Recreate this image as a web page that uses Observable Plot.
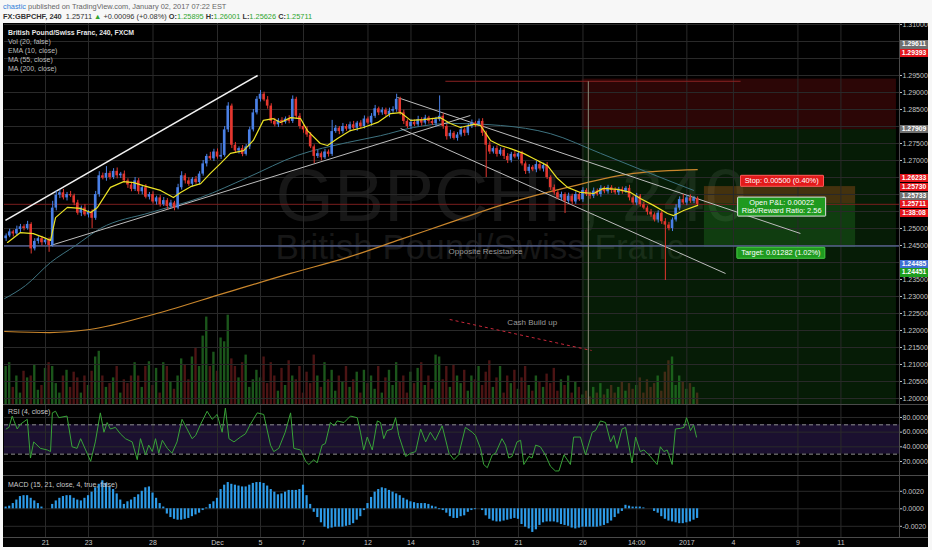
<!DOCTYPE html>
<html><head><meta charset="utf-8">
<script src="https://cdn.jsdelivr.net/npm/d3@7"></script>
<script src="https://cdn.jsdelivr.net/npm/@observablehq/plot@0.6"></script>
<style>
html,body{margin:0;padding:0;background:#f7f7f7;width:932px;height:550px;overflow:hidden;font-family:"Liberation Sans",Arial,"DejaVu Sans",sans-serif;}
.hdr{position:absolute;left:3px;white-space:nowrap;font-size:7.4px;line-height:9px;}
#hdr1{top:2px;color:#666;}
#hdr1 .user{color:#2f7fd8;}
#hdr2{top:11.5px;color:#333;}
#hdr2 .g{color:#2ea52e;}
#chart{position:absolute;left:3px;top:23px;width:925px;height:524px;background:#000;overflow:hidden;}
.layer{position:absolute;left:0;}
.sep{position:absolute;left:0;width:925px;height:1px;background:#4a4a4a;}
.vsep{position:absolute;left:896px;top:0;width:1px;height:514px;background:#4a4a4a;}
#legend{position:absolute;left:5px;top:5px;font-size:7px;line-height:9px;color:#bcbcbc;white-space:nowrap;}
#legend .l1{color:#e6e6e6;font-weight:bold;font-size:6.9px;}
.pane-label{position:absolute;left:5px;font-size:7px;line-height:8px;color:#c8c8c8;white-space:nowrap;}
.tag{position:absolute;left:897px;width:28px;height:8.6px;line-height:8.6px;font-size:6.8px;color:#fff;text-align:center;font-weight:bold;}
.tag.red{background:#e3161c;}
.tag.gray{background:#707070;}
.tag.blue{background:#3f6fd3;}
.tag.green{background:#1e9d1e;}
.box{position:absolute;transform:translate(-50%,-50%);color:#fff;font-size:7.4px;line-height:8.4px;padding:1px 4px;white-space:nowrap;text-align:center;border-radius:1px;}
.box.stop{background:#e31a1a;border:1px solid #ff5a5a;}
.box.pnl{background:#1f9a1f;border:1px solid #e0e0e0;}
.box.target{background:#1f9a1f;border:1px solid #44cc44;}
</style>
</head>
<body>
<div id="hdr1" class="hdr"><span class="user">chastic</span> published on TradingView.com, January 02, 2017 07:22 EST</div>
<div id="hdr2" class="hdr"><b>FX:GBPCHF, 240</b>&nbsp; 1.25711 <span class="g">▲</span> +0.00096 (+0.08%) <b>O:</b><span class="g">1.25895</span> <b>H:</b><span class="g">1.26001</span> <b>L:</b><span class="g">1.25626</span> <b>C:</b><span class="g">1.25711</span></div>
<div id="chart"></div>
<script>
// ---------- DATA (prices in pips above 1.2000, candle index = 4h bar) ----------
const firstOpen = 470;
const closes = [
 478,490,484,497,505,500,512,440,462,470,
 458,466,450,560,598,605,590,600,596,575,
 545,560,540,548,530,600,655,648,662,650,
 668,655,660,640,628,615,640,608,620,592,
 600,578,590,570,582,565,575,560,620,655,
 640,630,645,635,660,690,712,705,725,710,
 715,790,860,745,728,735,718,740,790,840,
 880,895,878,860,815,805,818,812,822,815,
 880,830,800,790,775,740,712,720,708,725,
 718,785,795,785,800,792,805,795,810,800,
 822,810,830,852,840,848,835,845,850,880,
 840,815,800,812,805,820,810,825,815,808,
 820,830,800,770,780,765,775,790,780,800,
 810,805,815,780,745,725,735,718,730,712,
 700,718,710,720,690,668,680,672,688,675,
 685,650,620,605,590,600,580,595,578,600,
 585,612,600,595,610,600,618,608,620,612,
 605,615,608,618,590,575,595,570,560,548,
 540,525,545,520,510,500,525,560,585,575,
 590,580,588,571];
const upperWick = [
 6,8,5,10,7,6,9,5,8,6, 7,5,6,20,12,8,10,6,9,5, 8,6,10,5,7,9,12,8,20,6,
 8,10,5,9,6,8,10,7,5,9, 6,8,5,7,9,6,8,5,10,12, 6,9,5,8,7,10,6,12,8,9,
 35,10,10,6,8,5,9,7,8,10, 8,11,6,10,7,9,5,8,6,10, 10,6,8,5,9,7,6,10,5,8,
 6,33,8,5,9,6,8,10,5,7, 9,6,8,10,5,7,6,9,8,15, 6,8,5,9,7,10,6,8,5,9,
 7,60,8,6,9,5,7,10,6,8, 9,5,7,8,6,10,5,8,7,6, 8,6,9,5,7,6,8,5,9,6,
 7,9,5,8,6,7,5,9,6,8, 6,8,5,7,9,6,8,5,7,6, 8,6,7,5,9,6,8,5,7,6,
 8,6,7,5,9,8,6,10,8,15, 7,9,6,5];
const lowerWick = [
 8,5,9,6,10,7,5,15,6,8, 9,6,20,5,8,10,6,9,5,8, 6,10,5,9,30,6,8,5,9,7,
 6,9,8,5,10,7,6,8,9,5, 8,6,9,7,5,10,6,8,5,7, 9,6,8,5,7,6,9,5,8,6,
 7,5,8,10,6,9,7,5,8,6, 6,8,5,9,7,6,8,10,5,7, 6,9,8,10,7,5,21,6,9,5,
 8,6,5,9,7,6,8,5,9,6, 7,5,9,6,8,7,5,9,6,8, 7,9,6,8,5,7,9,6,8,5,
 9,6,8,10,7,5,8,6,9,7, 6,8,5,9,95,7,6,8,5,9, 9,7,5,8,6,9,7,5,8,6,
 9,6,8,7,5,9,36,6,8,7, 5,8,6,9,7,5,8,6,7,9, 6,8,7,5,9,6,8,7,5,9,
 7,6,9,8,163,7,9,6,8,5, 8,6,7,5];
const volumes = [
 40,44,18,30,12,35,28,30,42,15,20,
 38,44,40,22,12,30,36,18,34,28,
 12,30,20,35,50,56,30,18,22,28,
 40,12,26,22,30,44,30,18,40,45,
 20,38,12,44,40,24,16,30,48,42,
 26,50,60,40,72,92,40,55,35,70,
 66,94,48,40,28,44,52,18,26,36,
 28,50,22,44,30,14,38,20,46,30,
 26,40,12,34,22,52,30,18,44,26,
 36,14,30,24,40,18,26,34,12,36,
 22,30,16,40,12,28,36,20,44,24,
 30,12,34,22,38,44,20,30,16,52,
 50,26,40,18,42,30,22,36,14,30,
 26,40,20,34,46,18,28,40,12,30,
 22,36,16,28,40,20,14,30,24,18,
 32,22,38,14,26,20,30,12,24,18,
 10,14,8,18,12,22,10,16,20,12,
 18,24,14,22,16,20,28,12,26,18,
 22,30,14,34,46,50,20,30,24,16,
 22,18,12];
// MACD histogram in units of 0.0001
const macdHist = [
 2,3,6,10,14,15,15,12,9,6, 2,0,0,5,9,12,14,15,15,12, 10,9,12,15,19,24,28,32,29,25,
 22,17,10,5,8,10,13,16,20,24, 25,18,12,6,2,-6,-10,-12,-13,-13, -12,-11,-9,-7,-5,-2,1,5,8,12,
 22,27,30,28,27,26,25,25,27,29, 30,30,29,26,22,19,16,17,19,21, 21,21,22,27,15,5,-4,-10,-16,-21,
 -23,-22,-21,-21,-21,-20,-19,-17,-13,-9, -2,6,13,19,22,24,23,21,19,17, 15,12,10,8,7,6,6,6,5,3,
 2,-1,-2,-5,-9,-11,-11,-9,-8,-4, -2,-1,0,-2,-8,-12,-14,-15,-15,-14, -13,-12,-11,-12,-18,-21,-23,-27,-24,-19,
 -16,-15,-15,-15,-16,-18,-19,-20,-22,-23, -22,-21,-21,-21,-21,-21,-20,-19,-17,-14, -10,-6,-3,4,3,2,2,2,1,0,
 0,-3,-5,-9,-12,-14,-15,-16,-17,-17, -16,-15,-13,-11];
// [candle index, RSI]
const rsiPoints = [
 [0,64.3],[0.8,66.5],[1.7,81.9],[2.2,75.3],[3.1,64.3],[4,70.9],[5.9,77.5],[6.8,24.7],[7.7,46.7],[9.6,37.9],
 [11.5,35.7],[12.4,33.5],[12.9,86.3],[13.8,88.5],[14.7,79.7],[17,81.9],[18.4,40.1],[19.8,37.9],[20.8,51.1],[22.2,35.7],
 [23.6,20.3],[24.9,46.7],[26.3,86.3],[27.3,59.9],[28.2,73.1],[29.1,64.3],[30.5,66.5],[31.9,57.7],[33.3,51.1],[35.2,46.7],
 [36.6,22.5],[37.5,51.1],[38.9,29.1],[39.8,42.3],[40.8,33.5],[41.7,51.1],[42.6,31.3],[43.6,48.9],[45,37.9],[46.3,31.3],
 [47.7,46.7],[49.1,77.5],[50.5,64.3],[51.9,51.1],[52.9,55.5],[54.3,70.9],[56.1,88.5],[57.5,77.5],[58.9,84.1],[60.3,59.9],
 [61.2,92.9],[62.2,51.1],[63.6,46.7],[65.4,53.3],[66.8,57.7],[68.2,70.9],[70.1,86.3],[71.9,84.1],[73.8,42.3],[74.7,33.5],
 [76.1,37.9],[77.9,59.9],[79.4,86.3],[80.3,37.9],[82.2,35.7],[83.6,20.3],[84.5,15.9],[85.9,22.5],[86.8,18.1],[88.2,42.3],
 [89.1,44.5],[90.5,73.1],[91.5,68.7],[92.4,75.3],[94.3,73.1],[96.1,81.9],[98,79.7],[98.9,59.9],[99.8,35.7],[100.8,53.3],
 [102.2,35.7],[103.6,75.3],[104.5,73.1],[105.4,51.1],[106.3,62.1],[107.7,64.3],[108.7,79.7],[109.6,55.5],[111.5,26.9],[112.9,31.3],
 [114.3,33.5],[115.7,64.3],[117.1,46.7],[118.4,59.9],[119.8,48.9],[121.7,68.7],[123.6,31.3],[125,22.5],[126.3,29.1],[128.2,66.5],
 [130.1,59.9],[131,55.5],[132.4,37.9],[133.3,15.9],[134.3,11.5],[135.7,29.1],[136.6,31.3],[138.4,51.1],[139.4,42.3],[140.3,24.7],
 [141.2,26.9],[142.6,46.7],[143.6,48.9],[144.5,15.9],[145.9,26.9],[146.8,24.7],[147.8,42.3],[149.1,40.1],[150.5,29.1],[151.9,13.7],
 [153.3,7.1],[154.3,7.1],[155.7,29.1],[157.5,15.9],[158.4,53.3],[160.3,53.3],[161.7,29.1],[163.6,59.9],[164.5,62.1],[165.9,75.3],
 [167.3,73.1],[168.7,46.7],[169.6,55.5],[170.5,37.9],[171.9,64.3],[172.9,66.5],[174.7,18.1],[175.7,53.3],[177,33.5],[178,35.7],
 [179.8,26.9],[181.7,15.9],[182.6,40.1],[183.6,33.5],[184.5,35.7],[185.9,15.9],[186.8,64.3],[188.2,65.2],[189.2,66.5],[189.9,79.7],
 [190.5,70.9],[191,62.1],[191.9,69.6],[192.7,53.3]];
// [candle index, pips above 1.2000]
const emaPoints = [
 [0.4,459],[4,488],[7.6,485],[10.4,474],[12.4,465],[13.8,532],[17.1,562],[20.8,559],[23.6,547],[25.5,562],
 [29.1,621],[32.8,638],[35.6,635],[38.3,626],[43.1,612],[46.7,591],[48.7,606],[51.5,623],[54.3,632],[57,662],
 [59.8,691],[62.6,721],[66.3,729],[69,759],[71.8,818],[74.6,823],[76.6,812],[79.4,826],[82.2,823],[84.1,788],
 [87.7,750],[89.7,744],[92.5,765],[96.1,788],[99.7,797],[103.7,812],[107.3,838],[110.1,841],[112.9,818],[116.5,820],
 [121.2,826],[124,809],[126.8,797],[130.5,806],[132.4,803],[135.2,759],[138,744],[140.8,735],[144.4,721],[147.2,706],
 [151.1,685],[153.9,647],[156.7,621],[160.3,606],[164,603],[166.7,618],[170.6,615],[174.3,606],[177,588],[180.7,568],
 [184.6,544],[186.3,538],[189.1,553],[193,568]];
const ma55Points = [
 [-0.4,294],[5.4,332],[12.4,400],[19.4,450],[26.3,500],[40.3,547],[54.3,591],[67.4,650],[81.3,715],[95.3,753],
 [104.5,773],[113.7,797],[124,809],[138,803],[151.9,779],[165.9,721],[179.8,662],[191.9,612]];
const ma200Points = [
 [-0.4,197],[12.1,194],[23.3,203],[42,250],[60.7,309],[79.4,368],[95.3,415],[110.1,468],[124,518],[138,568],
 [156.7,621],[175.1,662],[192.9,673]];
// drawings: trend lines and position tools (candle index, price)
const trendLines = [
 {x1:-0.2, y1:1.2524, x2:70.2, y2:1.2950, kind:"bright"},
 {x1:12.4, y1:1.2450, x2:129.6, y2:1.28324, kind:"soft"},
 {x1:109.2, y1:1.28853, x2:221.7, y2:1.24853, kind:"soft"},
 {x1:110.1, y1:1.27941, x2:200.8, y2:1.23676, kind:"soft"},
 {x1:123.8, y1:1.22324, x2:163.4, y2:1.21412, kind:"dash"},
 {x1:122.6, y1:1.2933, x2:205, y2:1.2933, kind:"maroon"},
 {x1:162.5, y1:1.2933, x2:162.5, y2:1.19, kind:"vgray"}
];
const hLines = [{price:1.25711, kind:"last"}, {price:1.24485, kind:"resist"}];
const zones = [
 {x1:160.8, x2:248.5, y1:1.29393, y2:1.27909, kind:"bigRed"},
 {x1:160.8, x2:248.5, y1:1.27909, y2:1.19, kind:"bigGreen"},
 {x1:194.9, x2:237.1, y1:1.26233, y2:1.25733, kind:"smallRed"},
 {x1:194.9, x2:237.1, y1:1.25733, y2:1.24451, kind:"smallGreen"}
];
const positionBoxes = [
 {lines:["Stop: 0.00500 (0.40%)"], idx:216.6, price:1.26397, kind:"stop"},
 {lines:["Open P&amp;L: 0.00022","Risk/Reward Ratio: 2.56"], idx:216.6, price:1.25632, kind:"pnl"},
 {lines:["Target: 0.01282 (1.02%)"], idx:216.4, price:1.24279, kind:"target"}
];
const annotations = [
 {text:"Opposite Resistance", idx:123.5, price:1.24324},
 {text:"Cash Build up", idx:139.9, price:1.22244}
];
const watermark = [
 {text:"GBPCHF, 240", idx:75.2, price:1.25912},
 {text:"British Pound/Swiss Franc", idx:75.2, price:1.24441}
];
const priceTags = [
 {text:"1.29611", price:1.29611, kind:"gray"},
 {text:"1.29393", price:1.29393, kind:"red"},
 {text:"1.27909", price:1.27909, kind:"gray"},
 {text:"1.26233", price:1.26233, kind:"red"},
 {text:"1.25730", price:1.25730, kind:"red"},
 {text:"1.25733", price:1.25733, kind:"gray"},
 {text:"1.25711", price:1.25711, kind:"red"},
 {text:"1:38:08", price:1.25711, kind:"red"},
 {text:"1.24485", price:1.24485, kind:"blue"},
 {text:"1.24451", price:1.24451, kind:"green"}
];
const legendLines = ["British Pound/Swiss Franc, 240, FXCM","Vol (20, false)","EMA (10, close)","MA (55, close)","MA (200, close)"];
const xTickIdx = [11,23,41,59,71,83,101,113,131,143,161,176,190,203,221,233];
const xTickLabels = ["21","23","28","Dec","5","7","12","14","19","21","26","14:00","2017","4","9","11"];
const priceTicks = [1.200,1.205,1.210,1.215,1.220,1.225,1.230,1.235,1.240,1.245,1.250,1.255,1.260,1.265,1.270,1.275,1.280,1.285,1.290,1.295,1.300,1.305,1.310];
// tick labels that sit under the price tags in the reference
const coveredTicks = [1.305,1.300,1.280,1.265,1.260,1.255,1.240];
const rsiTicks = [20,40,60,80];
const rsiBand = [30,70];
const macdTicks = [-0.002,0,0.002];

// ---------- BUILD ----------
const P = v => 1.2 + v / 10000;
const candles = closes.map((c, i) => {
  const o = i === 0 ? firstOpen : closes[i - 1];
  return {i, open:P(o), close:P(c), high:P(Math.max(o,c)+upperWick[i]), low:P(Math.min(o,c)-lowerWick[i]),
          up:c >= o, vol:volumes[i], macd:macdHist[i]/1e4};
});
const UP = "#4a80e6", DOWN = "#e3372f";
const X_DOMAIN = [-0.45, 249.35];
const tickLabel = new Map(xTickIdx.map((d,k)=>[d, xTickLabels[k]]));
const labelTicks = priceTicks.filter(t => !coveredTicks.some(c => Math.abs(c - t) < 1e-6));
const baseStyle = {background:"transparent", color:"#c4c4c4", fontSize:"7px", fontFamily:"Liberation Sans, Arial, sans-serif", overflow:"visible"};
const common = {width:925, marginLeft:1, marginRight:29, style:baseStyle};
const GRID = "#2a2a2a";
const lineStyle = {
  bright:{stroke:"#f2f2f2", strokeWidth:1.6},
  soft:{stroke:"#bdbdbd", strokeWidth:1},
  dash:{stroke:"#c8283a", strokeWidth:1, strokeDasharray:"3,3"},
  maroon:{stroke:"#8a2222", strokeWidth:1},
  vgray:{stroke:"#8c8c7a", strokeWidth:1}
};
const zoneStyle = {
  bigRed:{fill:"#b01818", op:0.25}, bigGreen:{fill:"#1f8a1f", op:0.2},
  smallRed:{fill:"#c8601e", op:0.32}, smallGreen:{fill:"#35b535", op:0.22}
};
const hStyle = {last:{stroke:"#7a1e1e"}, resist:{stroke:"#6f7fc0"}};

const chartEl = document.getElementById("chart");
function place(el, top, z){ const d=document.createElement("div"); d.className="layer"; d.style.top=top+"px"; d.style.zIndex=z; d.appendChild(el); chartEl.appendChild(d); }

const vol = Plot.plot({
  ...common, height:381, marginTop:0, marginBottom:0,
  x:{domain:X_DOMAIN, axis:null}, y:{domain:[0,401], axis:null},
  marks:[Plot.rect(candles, {x1:d=>d.i-0.33, x2:d=>d.i+0.33, y1:()=>0, y2:"vol", fill:d=>d.up?"#1b561b":"#4c1414"})]
});
place(vol, 0, 1);

const main = Plot.plot({
  ...common, height:381, marginTop:0, marginBottom:0,
  x:{domain:X_DOMAIN, axis:null},
  y:{domain:[1.198235,1.310294], axis:"right", ticks:labelTicks, tickFormat:d=>d.toFixed(5), tickSize:2, tickPadding:1, label:null},
  marks:[
    Plot.text(watermark.slice(0,1), {x:"idx", y:"price", text:"text", textAnchor:"start", lineAnchor:"middle", fontSize:75, fill:"#171717"}),
    Plot.text(watermark.slice(1), {x:"idx", y:"price", text:"text", textAnchor:"start", lineAnchor:"middle", fontSize:35, fill:"#171717"}),
    ...zones.map(z => Plot.rect([z], {x1:"x1", x2:"x2", y1:"y1", y2:"y2", fill:zoneStyle[z.kind].fill, fillOpacity:zoneStyle[z.kind].op, clip:true})),
    Plot.ruleX(xTickIdx, {stroke:GRID, strokeWidth:1}),
    Plot.ruleY(priceTicks, {stroke:GRID, strokeWidth:1}),
    ...hLines.map(h => Plot.ruleY([h.price], {stroke:hStyle[h.kind].stroke, strokeWidth:1})),
    Plot.line(ma200Points, {x:d=>d[0], y:d=>P(d[1]), stroke:"#c9862c", strokeWidth:1.2, curve:"monotone-x"}),
    Plot.line(ma55Points, {x:d=>d[0], y:d=>P(d[1]), stroke:"#3e7380", strokeWidth:1, curve:"monotone-x"}),
    ...trendLines.map(t => Plot.link([t], {x1:"x1", y1:"y1", x2:"x2", y2:"y2", clip:true, ...lineStyle[t.kind]})),
    Plot.ruleX(candles, {x:"i", y1:"low", y2:"high", stroke:d=>d.up?UP:DOWN, strokeWidth:1}),
    Plot.rect(candles, {x1:d=>d.i-0.36, x2:d=>d.i+0.36, y1:"open", y2:"close", fill:d=>d.up?UP:DOWN}),
    Plot.line(emaPoints, {x:d=>d[0], y:d=>P(d[1]), stroke:"#ece325", strokeWidth:1.2}),
    Plot.text(annotations, {x:"idx", y:"price", text:"text", textAnchor:"start", fill:"#9a9a9a", fontSize:8})
  ]
});
place(main, 0, 2);

const rsi = Plot.plot({
  ...common, height:71, marginTop:0, marginBottom:0,
  x:{domain:X_DOMAIN, axis:null},
  y:{domain:[0.9,97.7], axis:"right", ticks:rsiTicks, tickFormat:d=>d.toFixed(4), tickSize:2, tickPadding:1, label:null},
  marks:[
    Plot.rect([rsiBand], {x1:()=>X_DOMAIN[0], x2:()=>X_DOMAIN[1], y1:d=>d[0], y2:d=>d[1], fill:"#1b1030"}),
    Plot.ruleX(xTickIdx, {stroke:GRID}),
    Plot.ruleY(rsiTicks, {stroke:GRID}),
    Plot.ruleY(rsiBand, {stroke:"#8e8e8e", strokeDasharray:"4,3"}),
    Plot.line(rsiPoints, {x:d=>d[0], y:d=>d[1], stroke:"#38a238", strokeWidth:1})
  ]
});
place(rsi, 381, 2);

const macd = Plot.plot({
  ...common, height:72, marginTop:0, marginBottom:10,
  x:{domain:X_DOMAIN, axis:"bottom", ticks:xTickIdx, tickFormat:d=>tickLabel.get(d), tickSize:0, tickPadding:3, label:null},
  y:{domain:[-0.00328,0.003806], axis:"right", ticks:macdTicks, tickFormat:d=>d.toFixed(4), tickSize:2, tickPadding:1, label:null},
  marks:[
    Plot.ruleX(xTickIdx, {stroke:GRID}),
    Plot.ruleY(macdTicks, {stroke:GRID}),
    Plot.rect(candles, {x1:d=>d.i-0.3, x2:d=>d.i+0.3, y1:()=>0, y2:"macd", fill:"#2d9be8"})
  ]
});
place(macd, 452, 2);

// separators
[381,452,514].forEach(t=>{const s=document.createElement("div"); s.className="sep"; s.style.top=t+"px"; s.style.zIndex=5; chartEl.appendChild(s);});
{const v=document.createElement("div"); v.className="vsep"; v.style.zIndex=5; chartEl.appendChild(v);}

function at(chart, name, v){
  const s = chart.scale(name);
  if (s && typeof s.apply === "function") return s.apply(v);
  const [d0,d1]=s.domain, [r0,r1]=s.range; return r0+(v-d0)/(d1-d0)*(r1-r0);
}
// legend
const lg=document.createElement("div"); lg.id="legend"; lg.style.zIndex=6;
lg.innerHTML = legendLines.map((t,k)=>`<div class="${k===0?"l1":""}">${t}</div>`).join("");
chartEl.appendChild(lg);
[["RSI (4, close)",385],["MACD (15, 21, close, 4, true, false)",458]].forEach(([t,top])=>{
  const d=document.createElement("div"); d.className="pane-label"; d.textContent=t; d.style.top=top+"px"; d.style.zIndex=6; chartEl.appendChild(d);
});
// position tool boxes
positionBoxes.forEach(b=>{
  const el=document.createElement("div"); el.className="box "+b.kind; el.innerHTML=b.lines.join("<br>");
  el.style.left=at(main,"x",b.idx)+"px"; el.style.top=at(main,"y",b.price)+"px"; el.style.zIndex=7;
  chartEl.appendChild(el);
});
// right-axis price tags (stacked to avoid overlap, as in the reference)
const tagShift = [-27,-25.6,0,-8,-16,-7,0,9,18.5,26];
priceTags.forEach((t,k)=>{
  const el=document.createElement("div"); el.className="tag "+t.kind; el.textContent=t.text;
  el.style.top=(at(main,"y",t.price)+tagShift[k]-4.3)+"px"; el.style.zIndex=8;
  chartEl.appendChild(el);
});
</script>
</body></html>
